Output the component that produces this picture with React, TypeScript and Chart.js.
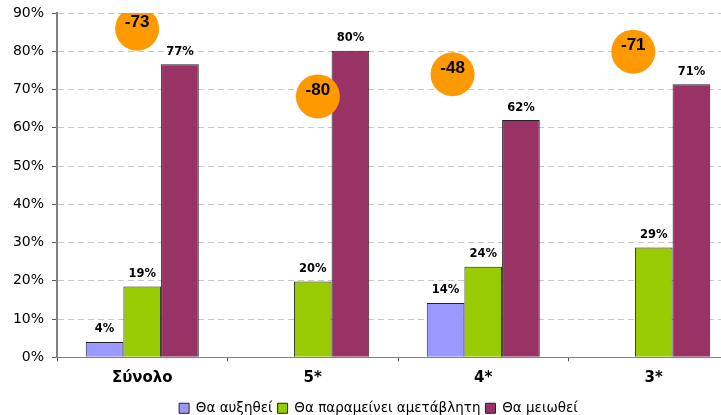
import React, { useEffect, useRef } from 'react';
import { Chart, registerables } from 'chart.js';

Chart.register(...registerables);

const categories = ['Σύνολο', '5*', '4*', '3*'];
const seriesNames = ['Θα αυξηθεί', 'Θα παραμείνει αμετάβλητη', 'Θα μειωθεί'];
const increase = [4.0, 0, 14.2, 0];
const unchanged = [18.5, 19.8, 23.7, 28.7];
const decrease = [76.6, 80.1, 62.0, 71.4];
const seriesColors = ['#9999FF', '#99CC00', '#993366'];

// balance (increase - decrease) shown in orange bubbles
const balance = [-73, -80, -48, -71];
// bubble placement in (category index, percent) units
const bubbleX = [-0.03, 1.03, 1.82, 2.88];
const bubbleY = [85.9, 68.2, 74.0, 79.9];

const yMax = 90;
const yStep = 10;

const labelPlugin = {
  id: 'valueLabels',
  afterLayout(chart: any) {
    // legend is centred on the full (uncropped) chart width in the original
    if (chart.legend) chart.legend.left += 18;
  },
  afterDatasetsDraw(chart: any) {
    const ctx = chart.ctx;
    ctx.save();
    ctx.textAlign = 'center';
    ctx.textBaseline = 'middle';
    ctx.fillStyle = '#000';
    [0, 1, 2].forEach((di) => {
      const meta = chart.getDatasetMeta(di);
      const vals = chart.data.datasets[di].data as number[];
      meta.data.forEach((el: any, i: number) => {
        const v = vals[i];
        if (!v) return;
        ctx.font = 'bold 11.5px "DejaVu Sans"';
        ctx.fillText(Math.round(v) + '%', el.x, el.y - 12.5);
      });
    });
    const bm = chart.getDatasetMeta(3);
    bm.data.forEach((el: any, i: number) => {
      ctx.font = 'bold 17px "Liberation Sans"';
      ctx.fillText(String(balance[i]), el.x, el.y - 6);
    });
    ctx.restore();
  },
};

export default function App() {
  const ref = useRef<HTMLCanvasElement | null>(null);

  useEffect(() => {
    document.body.style.margin = '0';
    if (!ref.current) return;
    Chart.defaults.font.family = '"DejaVu Sans"';
    const barData = [increase, unchanged, decrease];
    const chart = new Chart(ref.current, {
      type: 'bar',
      data: {
        labels: categories,
        datasets: [
          ...barData.map((d, i) => ({
            type: 'bar' as const,
            label: seriesNames[i],
            data: d,
            backgroundColor: seriesColors[i],
            borderColor: '#222',
            borderWidth: 1,
            categoryPercentage: 0.663,
            barPercentage: 1,
            order: 1,
          })),
          {
            type: 'scatter' as const,
            label: 'balance',
            parsing: false,
            data: bubbleX.map((x, i) => ({ x, y: bubbleY[i] })),
            backgroundColor: '#FF9900',
            borderWidth: 0,
            pointRadius: 22,
            pointHoverRadius: 22,
            order: -1,
          } as any,
        ],
      },
      options: {
        responsive: false,
        animation: false,
        layout: { autoPadding: false, padding: { top: 13, right: 0, left: 0, bottom: 0 } },
        plugins: {
          tooltip: { enabled: false },
          legend: {
            position: 'bottom',
            labels: {
              boxWidth: 10,
              boxHeight: 10,
              padding: 5,
              color: '#000',
              font: { size: 13.5, family: '"DejaVu Sans"' },
              filter: (item: any) => item.datasetIndex < 3,
            },
          },
        },
        scales: {
          x: {
            type: 'category',
            offset: true,
            grid: {
              display: true,
              drawOnChartArea: false,
              drawTicks: true,
              tickLength: 4,
              offset: true,
              color: '#555',
              tickColor: '#555',
            },
            border: { display: true, color: '#808080', width: 1 },
            ticks: { color: '#000', font: { size: 15, weight: 'bold' }, padding: 8 },
            afterFit: (s: any) => { s.height = 39.2; },
          },
          y: {
            min: 0,
            max: yMax,
            ticks: {
              stepSize: yStep,
              color: '#000',
              font: { size: 14 },
              padding: 8,
              callback: (v: any) => v + '%',
            },
            grid: {
              color: '#c8c8c8',
              tickColor: '#555',
              tickLength: 5,
              tickBorderDash: [],
            },
            border: { display: true, color: '#808080', width: 2, dash: [6, 4] },
            afterFit: (s: any) => { s.width = 57; s.paddingTop = 0; s.paddingBottom = 0; },
          },
        },
      } as any,
      plugins: [labelPlugin],
    });
    return () => chart.destroy();
  }, []);

  return (
    <div style={{ position: 'absolute', left: 0, top: 0, width: 721, height: 415, overflow: 'hidden', background: '#fff' }}>
      <canvas ref={ref} width={739} height={425} style={{ display: 'block', width: 739, height: 425 }} />
    </div>
  );
}
